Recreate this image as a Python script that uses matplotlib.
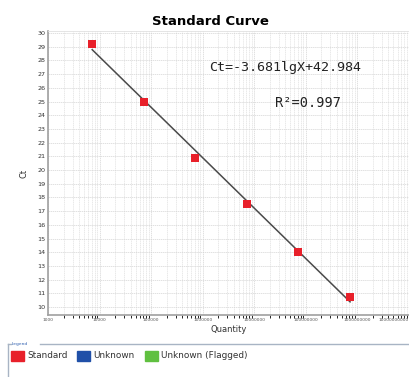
import matplotlib
matplotlib.use("Agg")
import matplotlib.pyplot as plt
import matplotlib.patches as patches
from matplotlib.ticker import LogLocator, FixedLocator, NullFormatter
import numpy as np

# standard points
quantity = [7.2e3, 7.2e4, 7.2e5, 7.2e6, 7.2e7, 7.2e8]
ct = [29.2, 25.0, 20.9, 17.55, 14.05, 10.7]
slope, intercept = -3.681, 42.984
x_ticks = [1e3, 1e4, 1e5, 1e6, 1e7, 1e8, 1e9, 1e10]
x_labels = ["1000", "10000", "100000", "1000000", "10000000",
            "100000000", "1000000000", "10000000000"]
y_ticks = list(range(10, 31))
legend_names = ["Standard", "Unknown", "Unknown (Flagged)"]
legend_colors = ["#e8202a", "#2050a8", "#60c040"]

W, H = 410, 377
fig = plt.figure(figsize=(W / 100, H / 100), dpi=100)
ax = fig.add_axes([48 / W, 1 - 315 / H, (409 - 48) / W, (315 - 31) / H])

ax.set_xscale("log")
ax.set_xlim(1e3, 1e10)
ax.set_ylim(9.42, 30.15)

ax.xaxis.set_major_locator(FixedLocator(x_ticks))
ax.set_xticklabels(x_labels, fontsize=3.2, color="#555555")
# last label sits at the right edge; keep it inside the figure
ax.get_xticklabels()[-1].set_horizontalalignment("right")
ax.xaxis.set_minor_locator(LogLocator(base=10, subs=np.arange(2, 10)))
ax.xaxis.set_minor_formatter(NullFormatter())
ax.set_yticks(y_ticks)
ax.set_yticklabels([str(v) for v in y_ticks], fontsize=4.6, color="#333333")
ax.tick_params(axis="both", length=0, pad=2)

ax.grid(True, which="major", color="#d4d4d4", linestyle=(0, (2, 1)), linewidth=0.5)
ax.grid(True, which="minor", axis="x", color="#dcdcdc", linestyle=(0, (2, 1)), linewidth=0.45)
ax.set_axisbelow(True)

for side in ["top", "right"]:
    ax.spines[side].set_color("#e0e0e0")
    ax.spines[side].set_linewidth(0.6)
for side in ["left", "bottom"]:
    ax.spines[side].set_color("#a0a0a0")
    ax.spines[side].set_linewidth(1.2)

# fitted line over the data range
lx = np.array([quantity[0], quantity[-1]])
ax.plot(lx, slope * np.log10(lx) + intercept, color="#4a4a4a", linewidth=1.1, zorder=2)
ax.scatter(quantity, ct, marker="s", s=28, color="#e8202a", zorder=3, linewidths=0)

ax.text(0.445, 0.87, "Ct=-3.681lgX+42.984", transform=ax.transAxes,
        fontsize=9.6, family=["DejaVu Sans Mono"], color="#222222", va="center")
ax.text(0.628, 0.745, "R²=0.997", transform=ax.transAxes,
        fontsize=9.8, family=["DejaVu Sans Mono"], color="#222222", va="center")

ax.set_title("Standard Curve", fontsize=9.5, fontweight="heavy", pad=4, x=0.45)
ax.set_xlabel("Quantity", fontsize=6, color="#333333", labelpad=2)
ax.set_ylabel("Ct", fontsize=6, color="#333333", labelpad=6)

# legend frame at the bottom
def fx(px):
    return px / W

def fy(py):
    return 1 - py / H

frame_col = "#a8b4c4"
fig.add_artist(plt.Line2D([fx(8), fx(8)], [fy(344), fy(377)], color=frame_col, linewidth=1.0))
fig.add_artist(plt.Line2D([fx(8), fx(11)], [fy(344), fy(344)], color=frame_col, linewidth=1.0))
fig.add_artist(plt.Line2D([fx(40), fx(410)], [fy(344), fy(344)], color=frame_col, linewidth=1.0))
fig.text(fx(12), fy(344), "Legend", fontsize=3.2, color="#3060b0", va="center")

box_x = [11, 77, 145]
for bx, name, col in zip(box_x, legend_names, legend_colors):
    fig.add_artist(patches.Rectangle((fx(bx), fy(361)), 13 / W, 10 / H,
                                     transform=fig.transFigure, color=col))
    fig.text(fx(bx + 16), fy(356), name, fontsize=6.4, color="#333333", va="center")

fig.savefig("out.png", dpi=100)
